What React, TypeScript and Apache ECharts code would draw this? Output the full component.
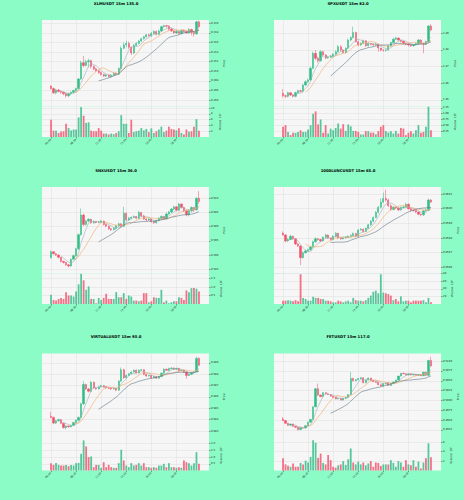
import React, { useEffect, useRef } from "react";
import * as echarts from "echarts";

const timeTickIdx = [0, 10, 20, 30, 40, 50];
const timeLabels = ["06:00", "08:30", "11:00", "13:30", "16:00", "18:30"];

const xlmTitle = "XLMUSDT 15m 135.0";
const xlmOpen0 = 2069;
const xlmClose = [2064,2055,2061,2058,2056,2053,2049,2053,2056,2060, 2064,2084,2118,2112,2120,2122,2110,2105,2101,2097, 2093,2090,2092,2089,2092,2096,2094,2106,2148,2155, 2158,2150,2138,2154,2158,2163,2168,2172,2176,2174, 2179,2183,2177,2184,2193,2195,2194,2188,2184,2180, 2183,2179,2185,2183,2180,2187,2181,2178,2203,2193];
const xlmHigh = [2071,2066,2063,2063,2060,2058,2055,2055,2058,2062, 2066,2086,2122,2132,2124,2126,2124,2112,2107,2103, 2099,2095,2094,2094,2094,2098,2098,2108,2152,2160, 2164,2162,2152,2157,2161,2165,2170,2174,2178,2178, 2182,2186,2185,2187,2195,2197,2197,2196,2190,2186, 2186,2185,2187,2187,2185,2190,2189,2183,2205,2206];
const xlmLow = [2062,2053,2052,2056,2053,2050,2045,2046,2050,2054, 2058,2062,2082,2108,2110,2108,2106,2102,2099,2095, 2091,2088,2088,2087,2087,2090,2092,2092,2104,2146, 2150,2146,2134,2136,2152,2156,2161,2166,2170,2172, 2172,2177,2175,2175,2182,2191,2191,2185,2182,2178, 2178,2177,2177,2181,2178,2178,2175,2172,2176,2190];
const xlmVol = [6.0,2.2,2.2,1.4,1.9,2.0,4.6,3.1,2.3,2.6, 2.6,6.8,10.4,7.4,4.9,5.1,2.2,2.0,2.0,3.1, 2.2,1.2,1.2,0.9,1.2,1.0,1.4,2.0,7.6,4.6, 4.6,1.4,6.0,1.7,2.0,2.2,3.1,2.3,2.8,1.7, 3.0,1.4,2.0,2.6,3.6,1.7,2.2,3.6,2.8,2.6, 2.3,3.0,1.4,0.9,2.6,1.8,2.0,3.6,6.2,2.2];
const xlmPriceTicks = [0.204, 0.206, 0.208, 0.21, 0.212, 0.214, 0.216, 0.218, 0.22];
const xlmVolTicks = [2, 4, 6, 8, 10];

const spxTitle = "SPXUSDT 15m 82.0";
const spxOpen0 = 14540;
const spxClose = [14526,14522,14544,14530,14522,14544,14556,14552,14590,14610, 14620,14690,14780,14750,14735,14790,14770,14752,14755,14762, 14775,14790,14820,14800,14785,14810,14860,14875,14905,14850, 14830,14840,14855,14826,14840,14835,14830,14836,14812,14800, 14798,14800,14825,14845,14865,14872,14860,14852,14842,14836, 14830,14826,14830,14838,14860,14840,14835,14850,14944,14920];
const spxHigh = [14565,14532,14550,14548,14535,14550,14562,14562,14596,14618, 14628,14700,14790,14800,14760,14798,14795,14776,14762,14770, 14782,14798,14830,14828,14806,14816,14868,14882,14940,14910, 14856,14846,14862,14860,14846,14842,14838,14842,14838,14806, 14805,14806,14830,14850,14872,14880,14875,14862,14855,14845, 14838,14834,14836,14845,14866,14864,14845,14856,14950,14955];
const spxLow = [14515,14512,14515,14524,14515,14516,14538,14545,14545,14585, 14604,14615,14685,14740,14725,14730,14765,14745,14748,14752, 14756,14768,14785,14792,14778,14780,14805,14852,14868,14845, 14822,14825,14835,14818,14820,14828,14822,14826,14790,14792, 14790,14790,14796,14820,14840,14860,14852,14845,14835,14828, 14822,14818,14820,14826,14832,14836,14780,14830,14845,14912];
const spxVol = [0.44,0.51,0.22,0.08,0.18,0.18,0.22,0.29,0.22,0.22, 0.32,0.51,1.0,1.1,0.54,0.75,0.18,0.51,0.15,0.36, 0.29,0.39,0.58,0.36,0.55,0.26,0.54,0.46,0.26,0.26, 0.22,0.11,0.11,0.25,0.25,0.19,0.19,0.12,0.25,0.44, 0.51,0.25,0.19,0.25,0.15,0.26,0.15,0.39,0.36,0.08, 0.18,0.25,0.15,0.29,0.51,0.18,0.22,0.44,1.3,0.29];
const spxPriceTicks = [1.45, 1.46, 1.47, 1.48, 1.49];
const spxVolTicks = [0.25, 0.5, 0.75, 1.0, 1.25];

const snxTitle = "SNXUSDT 15m 36.0";
const snxOpen0 = 5891;
const snxClose = [5912,5905,5900,5892,5878,5874,5866,5862,5885,5898, 5922,5972,6041,6008,6020,6026,6014,6018,6015,6016, 6020,6008,6002,5993,5989,5994,6003,6010,6002,6047, 6024,6030,6033,6036,6030,6050,6038,6027,6024,6027, 6018,6014,6022,6030,6036,6028,6045,6052,6062,6070, 6058,6080,6068,6056,6042,6056,6068,6060,6100,6089];
const snxHigh = [5916,5914,5908,5903,5894,5880,5876,5868,5888,5902, 5926,5976,6064,6046,6024,6030,6028,6022,6020,6020, 6024,6022,6010,6004,5995,5998,6006,6014,6012,6070, 6050,6034,6036,6040,6038,6056,6052,6042,6030,6030, 6029,6020,6025,6034,6040,6038,6050,6056,6066,6074, 6073,6084,6082,6070,6058,6060,6072,6070,6104,6125];
const snxLow = [5888,5902,5897,5888,5874,5870,5862,5856,5858,5882, 5894,5918,5968,6002,6004,6016,6010,6010,6012,6012, 6013,6004,5998,5988,5985,5987,5990,6000,5998,5998, 6020,6020,6026,6030,6026,6026,6034,6024,6018,6020, 6014,6010,6010,6018,6026,6024,6024,6042,6048,6058, 6054,6054,6064,6052,6038,6036,6050,6052,6056,6080];
const snxVol = [0.54,0.24,0.2,0.3,0.36,0.3,0.7,0.5,0.5,0.44, 0.74,1.16,1.78,1.4,0.84,1.04,0.3,0.3,0.04,0.36, 0.24,0.36,0.6,0.3,0.3,0.3,0.7,0.4,0.4,0.64, 0.3,0.5,0.44,0.2,0.2,0.16,0.2,0.64,0.64,0.1, 0.16,0.4,0.36,0.36,0.84,0.1,0.2,0.04,0.1,0.16, 0.16,0.4,0.36,0.24,0.8,0.7,0.94,0.94,0.9,0.74];
const snxPriceTicks = [0.585, 0.59, 0.595, 0.6, 0.605, 0.61];
const snxVolTicks = [0.5, 1.0, 1.5];

const luncTitle = "1000LUNCUSDT 15m 65.0";
const luncOpen0 = 59834;
const luncClose = [59821,59780,59790,59812,59795,59760,59745,59666,59700,59712, 59720,59738,59775,59795,59790,59780,59805,59820,59800,59790, 59812,59832,59800,59795,59800,59806,59812,59818,59830,59812, 59855,59860,59845,59866,59890,59915,59940,59975,60010,60045, 60070,60060,60020,59995,60010,60005,59992,60008,60012,60030, 60000,59990,59988,59978,59962,59958,59985,59990,60060,60045];
const luncHigh = [59845,59826,59800,59822,59816,59800,59765,59750,59708,59720, 59728,59745,59782,59805,59800,59795,59812,59830,59825,59805, 59820,59840,59836,59805,59806,59812,59818,59825,59838,59836, 59862,59868,59865,59872,59896,59922,59948,59984,60020,60070, 60110,60130,60068,60030,60018,60015,60010,60015,60020,60040, 60036,60008,59996,59992,59982,59968,59992,60000,60068,60065];
const luncLow = [59815,59770,59772,59785,59788,59752,59738,59616,59660,59694, 59706,59714,59730,59768,59782,59772,59775,59798,59795,59782, 59784,59806,59792,59788,59790,59796,59800,59808,59812,59805, 59806,59850,59838,59840,59860,59884,59908,59935,59968,60002, 60038,60050,60012,59985,59988,59998,59984,59986,60004,60006, 59994,59982,59980,59970,59955,59948,59950,59980,59985,60038];
const luncVol = [8.7,8.7,10,8.7,7,10,7,78,16,13, 8.7,8.7,19,16,16,13,13,8.7,8.7,7, 4.4,4.4,8.7,7,4.4,7,8.7,4.4,16,10, 8.7,8.7,7,10,16,22,32,35,28,78, 30,28,26,22,10,13,7,20,7,8.7, 8.7,4.4,8.7,8.7,8.7,8.7,10,4.4,16,4.4];
const luncPriceTicks = [0.0596, 0.0597, 0.0598, 0.0599, 0.06, 0.0601];
const luncVolTicks = [20, 40, 60, 80];

const virtTitle = "VIRTUALUSDT 15m 93.0";
const virtOpen0 = 98430;
const virtClose = [98420,98370,98390,98400,98368,98330,98345,98338,98350,98375, 98395,98420,98540,98710,98670,98650,98730,98680,98672,98690, 98700,98690,98680,98676,98670,98675,98660,98740,98840,98770, 98790,98805,98820,98836,98812,98836,98840,98800,98785,98790, 98770,98780,98765,98780,98810,98845,98835,98850,98855,98845, 98852,98830,98835,98820,98790,98800,98815,98822,98940,98880];
const virtHigh = [98470,98428,98398,98410,98406,98375,98352,98350,98358,98382, 98402,98428,98548,98740,98718,98680,98740,98736,98688,98698, 98708,98706,98696,98686,98682,98682,98680,98748,98860,98848, 98798,98812,98828,98842,98842,98842,98848,98846,98806,98796, 98795,98786,98784,98786,98816,98852,98850,98858,98862,98860, 98858,98856,98840,98838,98825,98806,98820,98828,98955,98950];
const virtLow = [98412,98360,98362,98384,98360,98322,98315,98330,98332,98344, 98368,98388,98412,98532,98662,98640,98642,98672,98664,98665, 98684,98684,98672,98668,98662,98665,98652,98655,98732,98760, 98762,98784,98798,98814,98806,98806,98830,98792,98778,98780, 98762,98765,98758,98760,98775,98805,98828,98828,98845,98838, 98840,98824,98826,98812,98760,98785,98792,98808,98815,98870];
const virtVol = [0.55,0.42,0.57,0.42,0.37,0.37,0.42,0.32,0.42,0.37, 0.55,0.57,1.25,2.25,1.8,1.0,1.05,0.25,0.42,0.42, 0.2,0.62,0.25,0.42,0.25,0.2,0.2,0.55,1.55,0.75, 0.37,0.25,0.55,0.37,0.42,0.55,0.37,0.55,0.25,0.25, 0.2,0.25,0.2,0.37,0.37,0.5,0.25,0.55,0.25,0.25, 0.2,0.25,0.2,0.75,0.62,0.55,0.37,0.55,1.37,0.5];
const virtPriceTicks = [0.983, 0.984, 0.985, 0.986, 0.987, 0.988, 0.989];
const virtVolTicks = [0.5, 1.0, 1.5, 2.0];

const fetTitle = "FETUSDT 15m 117.0";
const fetOpen0 = 49530;
const fetClose = [49490,49420,49370,49400,49345,49320,49260,49310,49300,49360, 49450,49520,49840,50300,50140,50100,50200,50170,50150,50110, 50080,50040,50050,50010,50060,50080,50150,50560,50500,50530, 50560,50580,50450,50520,50570,50510,50480,50460,50400,50370, 50430,50450,50380,50430,50470,50520,50620,50690,50680,50650, 50680,50650,50670,50640,50660,50630,50720,50640,51020,50880];
const fetHigh = [49580,49500,49430,49415,49410,49355,49330,49320,49320,49370, 49460,49530,49850,50320,50430,50150,50215,50210,50180,50160, 50120,50090,50065,50060,50070,50090,50160,50730,50580,50545, 50570,50595,50590,50530,50585,50580,50520,50490,50470,50410, 50440,50460,50455,50440,50480,50530,50630,50700,50710,50690, 50690,50690,50680,50675,50670,50665,50730,50730,51030,51110];
const fetLow = [49480,49410,49355,49360,49330,49300,49240,49250,49290,49290, 49350,49440,49510,49830,50120,50080,50090,50150,50140,50100, 50070,50030,50030,50000,50000,50050,50070,50140,50490,50490, 50520,50550,50440,50440,50510,50500,50470,50450,50390,50360, 50360,50420,50370,50370,50420,50460,50510,50610,50670,50640, 50640,50640,50640,50630,50630,50620,50620,50620,50620,50860];
const fetVol = [2.6,1.3,1.0,0.8,1.5,0.8,0.8,1.6,1.3,2.1, 1.7,2.9,6.45,5.9,2.7,3.6,1.6,1.3,3.3,2.2, 0.8,0.6,1.1,1.3,2.0,1.2,2.4,4.7,1.7,1.3, 1.9,1.3,1.7,1.1,1.5,2.0,0.8,1.7,1.6,1.0, 1.3,1.3,1.3,2.2,1.6,0.8,2.0,1.7,0.8,2.2, 1.3,1.1,2.2,0.8,1.9,0.4,1.7,2.6,5.8,2.8];
const fetPriceTicks = [0.4925, 0.495, 0.4975, 0.5, 0.5025, 0.505, 0.5075, 0.51];
const fetVolTicks = [2, 4, 6];

const maPeriods = [5, 10, 20];

const panels = [
  { title: xlmTitle, unit: 1e-4, open0: xlmOpen0, close: xlmClose, high: xlmHigh, low: xlmLow, vol: xlmVol, pTicks: xlmPriceTicks, vTicks: xlmVolTicks, pDec: 3, vDec: 0, volName: "Volume  10⁵", pMin: 0.20265, pMax: 0.22069, vMax: 10.6 },
  { title: spxTitle, unit: 1e-4, open0: spxOpen0, close: spxClose, high: spxHigh, low: spxLow, vol: spxVol, pTicks: spxPriceTicks, vTicks: spxVolTicks, pDec: 2, vDec: 2, volName: "Volume  10⁶", pMin: 1.4461, pMax: 1.4980, vMax: 1.31 },
  { title: snxTitle, unit: 1e-4, open0: snxOpen0, close: snxClose, high: snxHigh, low: snxLow, vol: snxVol, pTicks: snxPriceTicks, vTicks: snxVolTicks, pDec: 3, vDec: 1, volName: "Volume  10⁶", pMin: 0.58352, pMax: 0.61398, vMax: 1.8 },
  { title: luncTitle, unit: 1e-6, open0: luncOpen0, close: luncClose, high: luncHigh, low: luncLow, vol: luncVol, pTicks: luncPriceTicks, vTicks: luncVolTicks, pDec: 4, vDec: 0, volName: "Volume  10⁶", pMin: 0.059558, pMax: 0.060148, vMax: 80 },
  { title: virtTitle, unit: 1e-5, open0: virtOpen0, close: virtClose, high: virtHigh, low: virtLow, vol: virtVol, pTicks: virtPriceTicks, vTicks: virtVolTicks, pDec: 3, vDec: 1, volName: "Volume  10⁵", pMin: 0.98221, pMax: 0.98983, vMax: 2.28 },
  { title: fetTitle, unit: 1e-5, open0: fetOpen0, close: fetClose, high: fetHigh, low: fetLow, vol: fetVol, pTicks: fetPriceTicks, vTicks: fetVolTicks, pDec: 4, vDec: 0, volName: "Volume  10⁵", pMin: 0.48996, pMax: 0.51195, vMax: 6.5 },
];

const PAGE_BG = "#8cfcc6";
const PLOT_BG = "#f6f6f6";
const GRID_LINE = "#e2e2e2";
const UP = "#2dbd85";
const DOWN = "#f2506a";
const MA_COLORS = ["#a3acb5", "#f2a865", "#5d7584"];
const FONT = "DejaVu Sans";
const colLeft = [42, 274];
const colCenter = [116, 348];
const rowTop = [20, 187, 353.5];
const titleY = [3, 170, 336.5];
const plotW = 167;
const priceH = 86.5;
const volH = 30.5;
const xMin = -3.6;
const xMax = 63;

function buildOption() {
  const grid: any[] = [];
  const xAxis: any[] = [];
  const yAxis: any[] = [];
  const series: any[] = [];
  const graphic: any[] = [];

  panels.forEach((p, k) => {
    const col = k % 2;
    const row = Math.floor(k / 2);
    const left = colLeft[col];
    const top = rowTop[row];
    const gi = 2 * k;
    const pLabelW = p.pTicks.map((t) => t.toFixed(p.pDec).length).reduce((a, b) => Math.max(a, b), 0);

    grid.push({ left, top, width: plotW, height: priceH, show: true, backgroundColor: PLOT_BG, borderWidth: 0, outerBoundsMode: "none" });
    grid.push({ left, top: top + priceH, width: plotW, height: volH, show: true, backgroundColor: PLOT_BG, borderWidth: 0, outerBoundsMode: "none" });

    const splitLine = { show: true, lineStyle: { color: GRID_LINE, width: 0.6 } };
    const axisLine = { show: false, onZero: false };

    xAxis.push({
      type: "value", gridIndex: gi, min: xMin, max: xMax,
      axisLine,
      axisTick: { show: false, customValues: timeTickIdx },
      axisLabel: { show: false, customValues: timeTickIdx },
      splitLine,
    });
    xAxis.push({
      type: "value", gridIndex: gi + 1, min: xMin, max: xMax,
      axisLine,
      axisTick: { show: true, length: 1.5, customValues: timeTickIdx, lineStyle: { color: "#444", width: 0.5 } },
      axisLabel: {
        show: true, customValues: timeTickIdx, rotate: 45, fontSize: 2.6, fontFamily: FONT, color: "#222", margin: 2.5,
        formatter: (v: number) => { const i = timeTickIdx.indexOf(Math.round(v)); return i >= 0 ? timeLabels[i] : ""; },
      },
      splitLine,
    });

    yAxis.push({
      type: "value", gridIndex: gi, position: "right", min: p.pMin, max: p.pMax,
      axisLine,
      axisTick: { show: true, length: 1.5, customValues: p.pTicks, lineStyle: { color: "#444", width: 0.5 } },
      axisLabel: { customValues: p.pTicks, fontSize: 2.6, fontFamily: FONT, color: "#222", margin: 2, formatter: (v: number) => v.toFixed(p.pDec) },
      splitLine,
      name: "Price", nameLocation: "middle", nameRotate: 90, nameGap: 4.5 + pLabelW * 1.3,
      nameTextStyle: { fontSize: 2.8, fontFamily: FONT, color: "#222" },
    });
    yAxis.push({
      type: "value", gridIndex: gi + 1, position: "right", min: 0, max: p.vMax,
      axisLine,
      axisTick: { show: true, length: 1.5, customValues: p.vTicks, lineStyle: { color: "#444", width: 0.5 } },
      axisLabel: { customValues: p.vTicks, fontSize: 2.6, fontFamily: FONT, color: "#222", margin: 2, formatter: (v: number) => v.toFixed(p.vDec) },
      splitLine,
      name: p.volName, nameLocation: "middle", nameRotate: 90, nameGap: p.vDec === 2 ? 9.5 : 8.5,
      nameTextStyle: { fontSize: 2.8, fontFamily: FONT, color: "#222" },
    });

    const opens = p.close.map((c, i) => (i === 0 ? p.open0 : p.close[i - 1]));
    const candles = p.close.map((c, i) => [i, opens[i] * p.unit, c * p.unit, p.low[i] * p.unit, p.high[i] * p.unit]);

    series.push({
      type: "candlestick", xAxisIndex: gi, yAxisIndex: gi, data: candles,
      encode: { x: 0, y: [1, 2, 3, 4] },
      barWidth: 1.8,
      itemStyle: { color: UP, color0: DOWN, borderColor: UP, borderColor0: DOWN, borderWidth: 0.5 },
    });

    maPeriods.forEach((n, m) => {
      const pts: number[][] = [];
      for (let i = n - 1; i < p.close.length; i++) {
        let s = 0;
        for (let j = i - n + 1; j <= i; j++) s += p.close[j];
        pts.push([i, (s / n) * p.unit]);
      }
      series.push({
        type: "line", xAxisIndex: gi, yAxisIndex: gi, data: pts, showSymbol: false, symbol: "none",
        lineStyle: { color: MA_COLORS[m], width: 0.6 }, z: 3,
      });
    });

    series.push({
      type: "bar", xAxisIndex: gi + 1, yAxisIndex: gi + 1, barWidth: 1.8,
      data: p.vol.map((v, i) => ({ value: [i, v], itemStyle: { color: p.close[i] >= opens[i] ? UP : DOWN, opacity: 0.8 } })),
    });

    graphic.push({
      type: "text", x: colCenter[col], y: titleY[row],
      style: { text: p.title, fontSize: 3.8, fontWeight: "bold", fontFamily: FONT, fill: "#000", align: "center", verticalAlign: "middle", textAlign: "center", textVerticalAlign: "middle" },
    });
  });

  return { animation: false, backgroundColor: PAGE_BG, grid, xAxis, yAxis, series, graphic };
}

export default function App() {
  const ref = useRef<HTMLDivElement>(null);
  useEffect(() => {
    document.body.style.margin = "0";
    if (!ref.current) return;
    const chart = echarts.init(ref.current, undefined, { renderer: "svg" });
    chart.setOption(buildOption() as any);
    return () => chart.dispose();
  }, []);
  return (
    <div style={{ position: "absolute", left: 0, top: 0, width: 464, height: 500, background: PAGE_BG }}>
      <div ref={ref} style={{ width: 464, height: 500 }} />
    </div>
  );
}
